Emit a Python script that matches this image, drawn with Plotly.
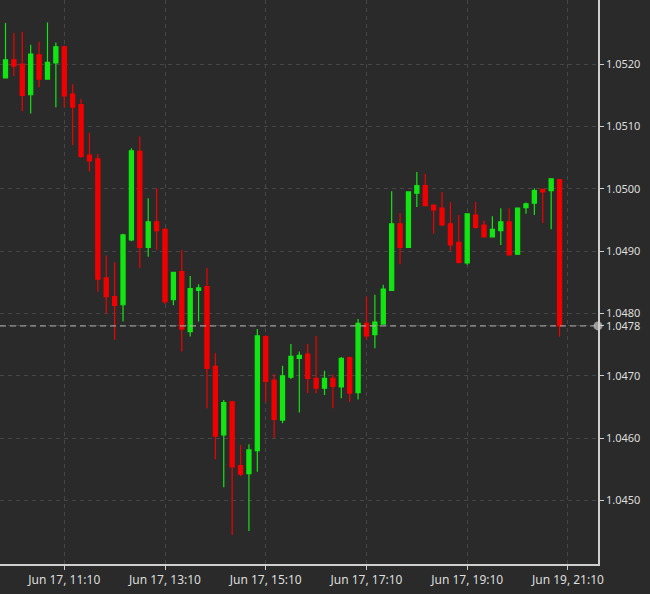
import plotly.graph_objects as go

# 10-minute candles (index 0 = Jun 17 10:00)
opens = [1.05178, 1.05207, 1.05200, 1.05151, 1.05215, 1.05176, 1.05202, 1.05228, 1.05152, 1.05135,
         1.05054, 1.05048, 1.04857, 1.04827, 1.04814, 1.04918, 1.05060, 1.04906, 1.04947, 1.04935,
         1.04822, 1.04867, 1.04771, 1.04837, 1.04843, 1.04715, 1.04605, 1.04658, 1.04556, 1.04543,
         1.04580, 1.04763, 1.04693, 1.04629, 1.04698, 1.04728, 1.04735, 1.04696, 1.04680, 1.04696,
         1.04682, 1.04729, 1.04673, 1.04784, 1.04766, 1.04783, 1.04837, 1.04944, 1.04906, 1.04993,
         1.05005, 1.04974, 1.04969, 1.04944, 1.04914, 1.04881, 1.04958, 1.04942, 1.04923, 1.04933,
         1.04947, 1.04895, 1.04970, 1.04977, 1.04999, 1.04997, 1.05015]
highs = [1.05266, 1.05250, 1.05252, 1.05231, 1.05236, 1.05267, 1.05235, 1.05230, 1.05168, 1.05144,
         1.05090, 1.05056, 1.04893, 1.04882, 1.04928, 1.05065, 1.05084, 1.04985, 1.05001, 1.04937,
         1.04867, 1.04902, 1.04860, 1.04847, 1.04873, 1.04736, 1.04661, 1.04660, 1.04589, 1.04590,
         1.04775, 1.04765, 1.04703, 1.04716, 1.04751, 1.04739, 1.04751, 1.04764, 1.04708, 1.04702,
         1.04730, 1.04731, 1.04791, 1.04827, 1.04830, 1.04846, 1.04996, 1.04961, 1.04996, 1.05027,
         1.05024, 1.04975, 1.04995, 1.04979, 1.04958, 1.04961, 1.04979, 1.04949, 1.04956, 1.04969,
         1.04969, 1.04970, 1.04978, 1.05001, 1.05000, 1.05017, 1.05015]
lows = [1.05177, 1.05181, 1.05125, 1.05121, 1.05163, 1.05175, 1.05131, 1.05131, 1.05070, 1.05050,
        1.05028, 1.04835, 1.04800, 1.04758, 1.04787, 1.04916, 1.04873, 1.04891, 1.04902, 1.04815,
        1.04813, 1.04739, 1.04763, 1.04787, 1.04648, 1.04566, 1.04521, 1.04445, 1.04539, 1.04451,
        1.04546, 1.04658, 1.04600, 1.04624, 1.04695, 1.04641, 1.04672, 1.04672, 1.04669, 1.04648,
        1.04664, 1.04658, 1.04662, 1.04758, 1.04744, 1.04782, 1.04836, 1.04879, 1.04905, 1.04971,
        1.04972, 1.04928, 1.04940, 1.04901, 1.04880, 1.04878, 1.04936, 1.04922, 1.04922, 1.04910,
        1.04893, 1.04894, 1.04960, 1.04958, 1.04945, 1.04935, 1.04763]
closes = [1.05207, 1.05197, 1.05150, 1.05216, 1.05176, 1.05203, 1.05228, 1.05149, 1.05131, 1.05052,
          1.05045, 1.04855, 1.04827, 1.04813, 1.04926, 1.05061, 1.04906, 1.04947, 1.04933, 1.04819,
          1.04866, 1.04775, 1.04840, 1.04841, 1.04712, 1.04603, 1.04657, 1.04554, 1.04542, 1.04581,
          1.04764, 1.04691, 1.04630, 1.04700, 1.04731, 1.04733, 1.04696, 1.04680, 1.04696, 1.04683,
          1.04728, 1.04672, 1.04784, 1.04764, 1.04786, 1.04839, 1.04944, 1.04906, 1.04995, 1.05005,
          1.04973, 1.04966, 1.04942, 1.04910, 1.04882, 1.04960, 1.04938, 1.04923, 1.04935, 1.04947,
          1.04894, 1.04969, 1.04976, 1.04997, 1.04995, 1.05016, 1.04780]

x_idx = list(range(len(opens)))

x_tick_pos = [7, 19, 31, 43, 55, 67]
x_tick_labels = ["Jun 17, 11:10", "Jun 17, 13:10", "Jun 17, 15:10",
                 "Jun 17, 17:10", "Jun 17, 19:10", "Jun 19, 21:10"]
y_tick_vals = [1.0450, 1.0460, 1.0470, 1.0480, 1.0490, 1.0500, 1.0510, 1.0520]

last_price = closes[-1]

BG = "#292a29"
GREEN = "#12e612"
RED = "#f20000"
X_RANGE = [-0.655, 70.58]
Y_RANGE = [1.04398, 1.05303]

fig = go.Figure()
fig.add_trace(go.Candlestick(
    x=x_idx, open=opens, high=highs, low=lows, close=closes,
    increasing=dict(line=dict(color=GREEN, width=1.2), fillcolor=GREEN),
    decreasing=dict(line=dict(color=RED, width=1.2), fillcolor=RED),
    whiskerwidth=0, hoverinfo="skip", showlegend=False,
))

# last-price marker on the axis
fig.add_trace(go.Scatter(
    x=[X_RANGE[1]], y=[last_price], mode="markers",
    marker=dict(size=9, color="#9a9a9a"), cliponaxis=False,
    hoverinfo="skip", showlegend=False,
))

fig.add_shape(type="line", xref="paper", yref="y", x0=0, x1=1,
              y0=last_price, y1=last_price,
              line=dict(color="#b4b4b4", width=1, dash="6px,4px"), layer="above")

y_vals_all = sorted(y_tick_vals + [last_price])
y_text_all = [f"{v:.4f}" for v in y_vals_all]

fig.update_layout(
    width=650, height=594,
    margin=dict(l=0, r=52, t=0, b=30),
    paper_bgcolor=BG, plot_bgcolor=BG,
    font=dict(family="Noto Sans", color="#dedede", size=12),
    boxgap=0.3,
    xaxis=dict(
        range=X_RANGE, rangeslider=dict(visible=False),
        tickmode="array", tickvals=x_tick_pos, ticktext=x_tick_labels,
        showgrid=True, gridcolor="#464646", griddash="4px,4px", gridwidth=1,
        showline=True, linecolor="#cfcfcf", linewidth=1.5,
        ticks="outside", ticklen=4, tickcolor="#cfcfcf",
        tickfont=dict(size=12, color="#dedede"), zeroline=False,
    ),
    yaxis=dict(
        range=Y_RANGE, side="right",
        tickmode="array", tickvals=y_vals_all, ticktext=y_text_all,
        showgrid=True, gridcolor="#464646", griddash="4px,4px", gridwidth=1,
        showline=True, linecolor="#cfcfcf", linewidth=1.5,
        ticks="outside", ticklen=4, tickcolor="#cfcfcf",
        tickfont=dict(size=11, color="#dedede"), zeroline=False,
    ),
)

fig.write_html(
    "out.html",
    config={"displayModeBar": False},
    post_script="document.body.style.margin='0';document.body.style.background='%s';" % BG,
)
